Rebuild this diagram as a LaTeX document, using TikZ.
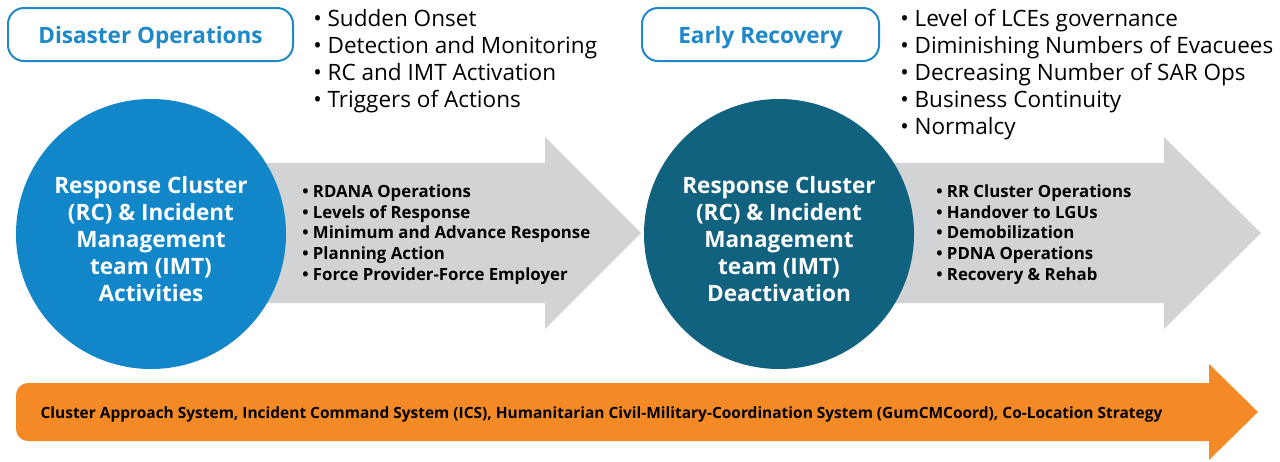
\documentclass[tikz,border=0pt]{standalone}
\usepackage{fontspec}
\setmainfont{Open Sans}
\usepackage{xcolor}
\usepackage{tikz}
\usetikzlibrary{positioning}
\definecolor{opsblue}{HTML}{1186C8}
\definecolor{recteal}{HTML}{11627F}
\definecolor{arrowgrey}{HTML}{D1D3D4}
\definecolor{sysorange}{HTML}{F48A25}
\definecolor{tagblue}{HTML}{1E88C9}
\tikzset{
  tag/.style={draw=tagblue, line width=1.5pt, rounded corners=12pt, text=tagblue,
    font=\bfseries\fontsize{16.9}{20}\selectfont, minimum height=39.75pt, text depth=0pt},
  phase/.style={circle, minimum size=202.5pt},
  phasetext/.style={text=white, align=center, font=\bfseries\fontsize{16.9}{20.25}\selectfont},
  trig/.style={anchor=base west, inner sep=0pt, font=\fontsize{16.9}{20.25}\selectfont},
  act/.style={anchor=base west, inner sep=0pt, font=\bfseries\fontsize{12.6}{15.5}\selectfont},
}

\begin{document}
\begin{tikzpicture}[x=0.75pt, y=-0.75pt]
    \useasboundingbox (0,0) rectangle (1280,461);
    \fill[white] (0,0) rectangle (1280,461);

    % grey arrows
    \fill[arrowgrey] (200,163) -- (545,163) -- (545,137) -- (641,233) -- (545,329) -- (545,303) -- (200,303) -- cycle;
    \fill[arrowgrey] (830,163) -- (1164,163) -- (1164,137) -- (1261,233) -- (1164,329) -- (1164,303) -- (830,303) -- cycle;

    % orange arrow
    \fill[sysorange, rounded corners=9pt] (16,383) rectangle (1225,441);
    \fill[sysorange] (1209,364) -- (1258,412) -- (1209,460) -- cycle;
    \node[font=\bfseries\fontsize{11.6}{13}\selectfont, anchor=base] (systems) at (601.5,418)
        {Cluster Approach System, Incident Command System (ICS), Humanitarian Civil-Military-Coordination System (GumCMCoord), Co-Location Strategy};

    % phase labels
    \node[tag, minimum width=213.75pt] (disops) at (150.5,34.5) {Disaster Operations};
    \node[tag, minimum width=177.75pt] (earlyrec) at (760.5,34.5) {Early Recovery};

    % circles
    \node[phase, fill=opsblue] (rcact) at (151,234) {};
    \node[phasetext] (rcacttxt) at ([yshift=-3.75pt]rcact.center) {Response Cluster\\(RC) \& Incident\\Management\\team (IMT)\\Activities};
    \node[phase, fill=recteal] (rcdeact) at (779,234) {};
    \node[phasetext] (rcdeacttxt) at ([yshift=-3.75pt]rcdeact.center) {Response Cluster\\(RC) \& Incident\\Management\\team (IMT)\\Deactivation};

    % triggers
    \node[trig] (trig1) at (313,26) {\textbullet\ Sudden Onset};
    \node[trig] (trig2) at (313,53) {\textbullet\ Detection and Monitoring};
    \node[trig] (trig3) at (313,80) {\textbullet\ RC and IMT Activation};
    \node[trig] (trig4) at (313,107) {\textbullet\ Triggers of Actions};

    \node[trig] (cond1) at (900,26) {\textbullet\ Level of LCEs governance};
    \node[trig] (cond2) at (900,53) {\textbullet\ Diminishing Numbers of Evacuees};
    \node[trig] (cond3) at (900,80) {\textbullet\ Decreasing Number of SAR Ops};
    \node[trig] (cond4) at (900,107) {\textbullet\ Business Continuity};
    \node[trig] (cond5) at (900,134) {\textbullet\ Normalcy};

    % activities
    \node[act] (act1) at (302,197) {\textbullet\ RDANA Operations};
    \node[act] (act2) at (302,218) {\textbullet\ Levels of Response};
    \node[act] (act3) at (302,238) {\textbullet\ Minimum and Advance Response};
    \node[act] (act4) at (302,259) {\textbullet\ Planning Action};
    \node[act] (act5) at (302,280) {\textbullet\ Force Provider-Force Employer};

    \node[act] (deact1) at (936,197) {\textbullet\ RR Cluster Operations};
    \node[act] (deact2) at (936,218) {\textbullet\ Handover to LGUs};
    \node[act] (deact3) at (936,238) {\textbullet\ Demobilization};
    \node[act] (deact4) at (936,259) {\textbullet\ PDNA Operations};
    \node[act] (deact5) at (936,280) {\textbullet\ Recovery \& Rehab};
\end{tikzpicture}
\end{document}
